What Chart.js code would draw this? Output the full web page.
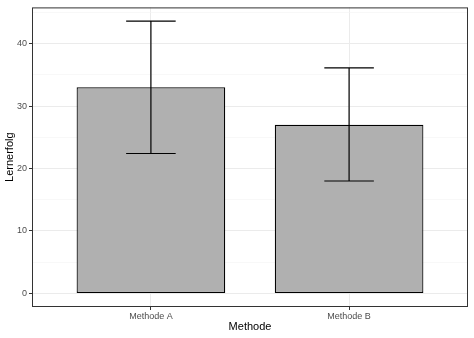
<!DOCTYPE html>
<html>
<head>
<meta charset="utf-8">
<script src="https://cdn.jsdelivr.net/npm/chart.js@4"></script>
<style>
  html, body { margin: 0; padding: 0; background: #fff; }
  #wrap { width: 474px; height: 338px; }
</style>
</head>
<body>
<div id="wrap"><canvas id="chart" width="474" height="338"></canvas></div>
<script>
const categories = ['Methode A', 'Methode B'];
const means = [33.0, 27.0];
const lower = [22.4, 18.0];
const upper = [43.6, 36.1];
const yTicks = [0, 5, 10, 15, 20, 25, 30, 35, 40, 45];

const FONT = '"Liberation Sans", Arial, sans-serif';

// panel border + error bars
const extras = {
  id: 'extras',
  afterDatasetsDraw(chart) {
    const { ctx, chartArea, scales } = chart;
    const x = scales.x, y = scales.y;
    ctx.save();
    ctx.strokeStyle = '#000';
    ctx.lineWidth = 1.2;
    categories.forEach((c, i) => {
      const cx = x.getPixelForValue(i + 1);
      const half = (x.getPixelForValue(1.125) - x.getPixelForValue(1));
      const yl = y.getPixelForValue(lower[i]);
      const yu = y.getPixelForValue(upper[i]);
      ctx.beginPath();
      ctx.moveTo(cx, yl); ctx.lineTo(cx, yu);
      ctx.moveTo(cx - half, yl); ctx.lineTo(cx + half, yl);
      ctx.moveTo(cx - half, yu); ctx.lineTo(cx + half, yu);
      ctx.stroke();
    });
    ctx.strokeStyle = '#333333';
    ctx.lineWidth = 1;
    ctx.strokeRect(chartArea.left + 0.5, chartArea.top + 0.5,
      chartArea.right - chartArea.left - 1, chartArea.bottom - chartArea.top - 1);
    ctx.restore();
  }
};

new Chart(document.getElementById('chart'), {
  type: 'bar',
  data: {
    datasets: [{
      data: categories.map((c, i) => ({ x: i + 1, y: means[i] })),
      backgroundColor: '#B0B0B0',
      borderColor: '#000000',
      borderWidth: 1.2,
      borderSkipped: false,
      barPercentage: 0.75,
      categoryPercentage: 1
    }]
  },
  options: {
    responsive: false,
    animation: false,
    layout: { padding: { top: 5, right: 6, left: 0, bottom: 0 } },
    plugins: { legend: { display: false }, tooltip: { enabled: false } },
    scales: {
      x: {
        type: 'linear',
        offset: false,
        min: 0.4,
        max: 2.6,
        afterBuildTicks: (axis) => { axis.ticks = categories.map((c, i) => ({ value: i + 1 })); },
        afterFit: (axis) => { axis.height = 31; },
        ticks: {
          callback: (v) => categories[v - 1] || '',
          color: '#4D4D4D',
          font: { family: FONT, size: 9 },
          padding: 1,
          maxRotation: 0
        },
        grid: { offset: false, color: '#EBEBEB', lineWidth: 1, tickLength: 3, tickColor: '#333333' },
        border: { display: false },
        title: {
          display: true, text: 'Methode', color: '#000',
          font: { family: FONT, size: 11 }, padding: { top: 0, bottom: 4 }
        }
      },
      y: {
        min: -2.18,
        max: 45.8,
        afterBuildTicks: (axis) => { axis.ticks = yTicks.map(v => ({ value: v })); },
        afterFit: (axis) => { axis.width = 32; },
        ticks: {
          callback: (v) => (v % 10 === 0 ? String(v) : ''),
          color: '#4D4D4D',
          font: { family: FONT, size: 9 },
          padding: 2
        },
        grid: {
          color: (ctx) => (ctx.tick && ctx.tick.value % 10 === 0 ? '#EBEBEB' : '#F4F4F4'),
          lineWidth: (ctx) => (ctx.tick && ctx.tick.value % 10 === 0 ? 1 : 0.6),
          tickLength: 3,
          tickColor: (ctx) => (ctx.tick && ctx.tick.value % 10 === 0 ? '#333333' : 'rgba(0,0,0,0)')
        },
        border: { display: false },
        title: {
          display: true, text: 'Lernerfolg', color: '#000',
          font: { family: FONT, size: 11 }, padding: { top: 3, bottom: 0 }
        }
      }
    }
  },
  plugins: [extras]
});
</script>
</body>
</html>
